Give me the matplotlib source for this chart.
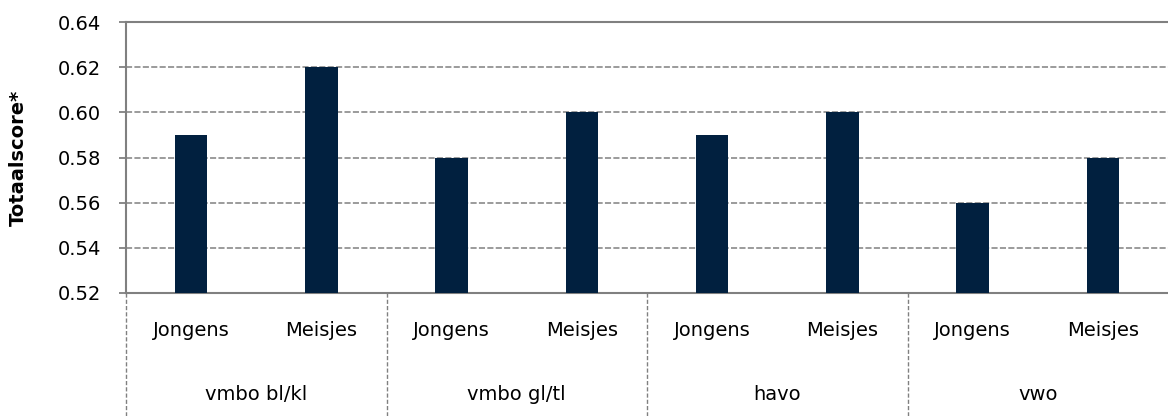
import matplotlib
matplotlib.use("Agg")
import matplotlib.pyplot as plt
import matplotlib.transforms as mtransforms

groups = ["vmbo bl/kl", "vmbo gl/tl", "havo", "vwo"]
subgroups = ["Jongens", "Meisjes"]
values = [0.59, 0.62, 0.58, 0.60, 0.59, 0.60, 0.56, 0.58]
yticks = [0.52, 0.54, 0.56, 0.58, 0.60, 0.62, 0.64]

W, H = 1168, 416
fig = plt.figure(figsize=(W / 100, H / 100), dpi=100)
L, R, T, B = 126, 1168, 22, 293
ax = fig.add_axes([L / W, (H - B) / H, (R - L) / W, (B - T) / H])

gray = "#808080"
n = len(values)
xs = list(range(n))
ax.bar(xs, [v - yticks[0] for v in values], bottom=yticks[0], width=0.25,
       color="#01203f", zorder=3)

ax.set_xlim(-0.5, n - 0.5)
ax.set_ylim(yticks[0], yticks[-1])
ax.set_yticks(yticks)
ax.set_yticklabels([f"{t:.2f}" for t in yticks], fontsize=14)
ax.tick_params(axis="y", length=5, width=1.3, color=gray, pad=13)
ax.set_xticks([])

for t in yticks[1:-1]:
    ax.axhline(t, color=gray, lw=1.1, ls=(0, (4, 1.5)), zorder=1)

for s in ["left", "top", "bottom"]:
    ax.spines[s].set_color(gray)
    ax.spines[s].set_linewidth(1.5)
ax.spines["right"].set_visible(False)

trans = mtransforms.blended_transform_factory(ax.transData, ax.transAxes)
ybot = -(H - B) / (B - T)
for g in range(len(groups)):
    xb = g * 2 - 0.5
    ax.plot([xb, xb], [0, ybot], transform=trans, color=gray, lw=1.0,
            ls=(0, (3, 1.5)), clip_on=False)
for i in range(n):
    ax.text(i, (B - 330) / (B - T), subgroups[i % 2], transform=trans,
            ha="center", va="center", fontsize=14)
for g, name in enumerate(groups):
    ax.text(g * 2 + 0.5, (B - 395) / (B - T), name, transform=trans,
            ha="center", va="center", fontsize=14)

fig.text(18 / W, (H - (T + B) / 2) / H, "Totaalscore*", rotation=90,
         ha="center", va="center", fontsize=14, fontweight="bold")

fig.savefig("out.png", dpi=100)
